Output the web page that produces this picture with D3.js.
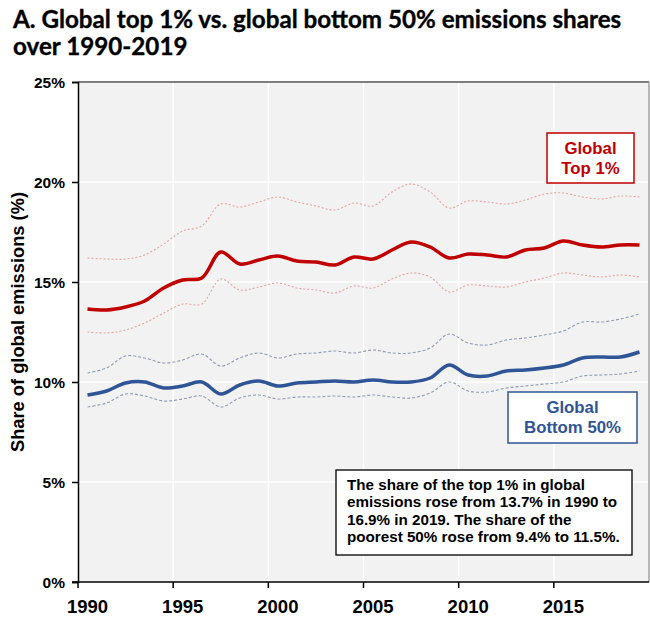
<!DOCTYPE html>
<html><head><meta charset="utf-8">
<script src="https://cdn.jsdelivr.net/npm/d3@7"></script>
<style>
html,body{margin:0;padding:0;background:#fff;}
svg{display:block;}
text{font-family:"Liberation Sans",Arial,sans-serif;font-weight:bold;}
</style></head>
<body>
<svg id="chart" width="650" height="619"></svg>
<script>
const years = d3.range(1990, 2020);
const top1 = [13.65,13.6,13.75,14.05,14.7,15.1,15.2,16.5,15.9,16.1,16.3,16.05,16.0,15.85,16.25,16.15,16.6,17.0,16.75,16.2,16.4,16.35,16.25,16.6,16.7,17.05,16.85,16.75,16.85,16.85];
const top1Upper = [16.2,16.15,16.15,16.35,16.9,17.55,17.8,18.9,18.75,19.0,19.25,19.0,18.8,18.6,18.95,18.8,19.5,19.9,19.5,18.7,19.05,19.0,18.9,19.1,19.4,19.45,19.25,19.15,19.3,19.25];
const top1Lower = [12.5,12.45,12.6,12.95,13.45,13.9,13.9,15.15,14.6,14.75,14.95,14.7,14.6,14.45,14.8,14.7,15.15,15.45,15.25,14.5,14.85,14.8,14.75,15.0,15.2,15.45,15.35,15.25,15.35,15.25];
const bottom50 = [9.35,9.55,9.95,10.0,9.7,9.8,10.0,9.4,9.85,10.05,9.8,9.95,10.0,10.05,10.0,10.1,10.0,10.0,10.2,10.85,10.35,10.3,10.55,10.6,10.7,10.85,11.2,11.25,11.25,11.5];
const bottom50Upper = [10.45,10.7,11.3,11.2,10.95,11.1,11.4,10.8,11.2,11.45,11.2,11.4,11.45,11.55,11.45,11.6,11.45,11.45,11.7,12.4,11.95,11.85,12.1,12.2,12.35,12.55,13.0,13.0,13.15,13.4];
const bottom50Lower = [8.75,8.95,9.4,9.3,9.05,9.15,9.3,8.75,9.2,9.35,9.15,9.25,9.25,9.3,9.25,9.35,9.25,9.2,9.45,10.0,9.55,9.5,9.7,9.8,9.9,10.0,10.3,10.35,10.4,10.55];
const yTicks = [0,5,10,15,20,25];
const xTickYears = [1990,1995,2000,2005,2010,2015];
const titleLines = ["A. Global top 1% vs. global bottom 50% emissions shares","over 1990-2019"];
const yTitle = "Share of global emissions (%)";
const legendTop = ["Global","Top 1%"];
const legendBottom = ["Global","Bottom 50%"];
const noteLines = ["The share of the top 1% in global","emissions rose from 13.7% in 1990 to","16.9% in 2019. The share of the","poorest 50% rose from 9.4% to 11.5%."];

const RED = "#c00000", BLUE = "#2f5597";
const svg = d3.select("#chart");
const L = 78, R = 649, T = 82, B = 582;

const x = d3.scaleBand().domain(years).range([L, R]).paddingInner(0).paddingOuter(0);
const bw = x.bandwidth();
const y = d3.scaleLinear().domain([0, 25]).range([B, T]);

// Title
svg.selectAll("text.title").data(titleLines).join("text")
  .attr("class","title")
  .attr("x", 13).attr("y", (d,i)=>28 + i*27)
  .style("font-family","Lato, 'Open Sans', sans-serif")
  .style("font-size","24.2px").style("font-weight","bold").attr("fill","#000")
  .attr("stroke","#000").attr("stroke-width",0.35)
  .text(d=>d);

// Plot background
svg.append("rect").attr("x", L).attr("y", T).attr("width", R-L).attr("height", B-T).attr("fill", "#f2f2f2");

// Grid lines
svg.selectAll("line.hgrid").data(yTicks.filter(v=>v>0 && v<25)).join("line")
  .attr("x1", L).attr("x2", R).attr("y1", d=>y(d)).attr("y2", d=>y(d))
  .attr("stroke", "#fff").attr("stroke-width", 1.5);
svg.selectAll("line.vgrid").data(xTickYears.filter(v=>v>1990)).join("line")
  .attr("x1", d=>x(d)).attr("x2", d=>x(d)).attr("y1", T).attr("y2", B)
  .attr("stroke", "#fff").attr("stroke-width", 1.5);

// Border top/right
svg.append("line").attr("x1", L).attr("x2", R).attr("y1", T).attr("y2", T).attr("stroke", "#7f7f7f").attr("stroke-width", 2);
svg.append("line").attr("x1", R).attr("x2", R).attr("y1", T).attr("y2", B).attr("stroke", "#a0a0a0").attr("stroke-width", 1.5);

// Lines
const line = (arr) => d3.line()
  .x((d,i)=>x(years[i]) + bw/2)
  .y(d=>y(d))
  .curve(d3.curveCatmullRom.alpha(0.5))(arr);

svg.append("path").attr("d", line(top1Upper)).attr("fill","none").attr("stroke","#eaa3a3").attr("stroke-width",1.1).attr("stroke-dasharray","2,2");
svg.append("path").attr("d", line(top1Lower)).attr("fill","none").attr("stroke","#eaa3a3").attr("stroke-width",1.1).attr("stroke-dasharray","2,2");
svg.append("path").attr("d", line(bottom50Upper)).attr("fill","none").attr("stroke","#8f9bb8").attr("stroke-width",1.1).attr("stroke-dasharray","3,2");
svg.append("path").attr("d", line(bottom50Lower)).attr("fill","none").attr("stroke","#8f9bb8").attr("stroke-width",1.1).attr("stroke-dasharray","3,2");
svg.append("path").attr("d", line(top1)).attr("fill","none").attr("stroke",RED).attr("stroke-width",3.5).attr("stroke-linejoin","round");
svg.append("path").attr("d", line(bottom50)).attr("fill","none").attr("stroke",BLUE).attr("stroke-width",3.5).attr("stroke-linejoin","round");

// Axes
const yAxis = d3.axisLeft(y).tickValues(yTicks).tickSize(6).tickFormat(d=>d+"%");
const gy = svg.append("g").attr("transform", `translate(${L},0)`).call(yAxis);
gy.select(".domain").attr("stroke","#000").attr("stroke-width",1.5);
gy.selectAll(".tick line").attr("stroke","#000").attr("stroke-width",1.5);
gy.selectAll(".tick text").attr("x",-13).attr("dy","0.35em").style("font-size","15.5px").style("font-weight","bold").attr("fill","#000")
  .style("font-family","'Liberation Sans', Arial, sans-serif");

const gx = svg.append("g").attr("transform", `translate(0,${B})`);
gx.append("line").attr("x1", L-6).attr("x2", R).attr("y1",0).attr("y2",0).attr("stroke","#000").attr("stroke-width",1.5);
gx.selectAll("line.tk").data(xTickYears).join("line")
  .attr("x1", d=>x(d)).attr("x2", d=>x(d)).attr("y1",0).attr("y2",6).attr("stroke","#000").attr("stroke-width",1.5);
gx.selectAll("text.tl").data(xTickYears).join("text")
  .attr("x", d=>x(d)+bw/2).attr("y", 31).attr("text-anchor","middle")
  .style("font-size","18.5px").attr("fill","#000").text(d=>d);

// Y title
svg.append("text").attr("transform","translate(24,322) rotate(-90)").attr("text-anchor","middle")
  .style("font-size","18.3px").attr("fill","#000").text(yTitle);

// Legend boxes
function legendBox(x0, y0, w, h, color, lines, baseY) {
  svg.append("rect").attr("x", x0).attr("y", y0).attr("width", w).attr("height", h)
    .attr("fill","#fff").attr("stroke", color).attr("stroke-width",1.5);
  svg.selectAll(null).data(lines).join("text")
    .attr("x", x0 + w/2).attr("y", (d,i)=>baseY + i*20).attr("text-anchor","middle")
    .style("font-size","16.8px").attr("fill", color).text(d=>d);
}
legendBox(547, 133, 87, 50, RED, legendTop, 154);
legendBox(508, 392, 129, 51, BLUE, legendBottom, 413);

// Note box
svg.append("rect").attr("x",336).attr("y",470).attr("width",296).attr("height",85)
  .attr("fill","#fff").attr("stroke","#000").attr("stroke-width",1.3);
svg.selectAll("text.note").data(noteLines).join("text").attr("class","note")
  .attr("x",347).attr("y",(d,i)=>490 + i*17.4)
  .style("font-size","15.2px").attr("fill","#000").text(d=>d);
</script>
</body></html>
